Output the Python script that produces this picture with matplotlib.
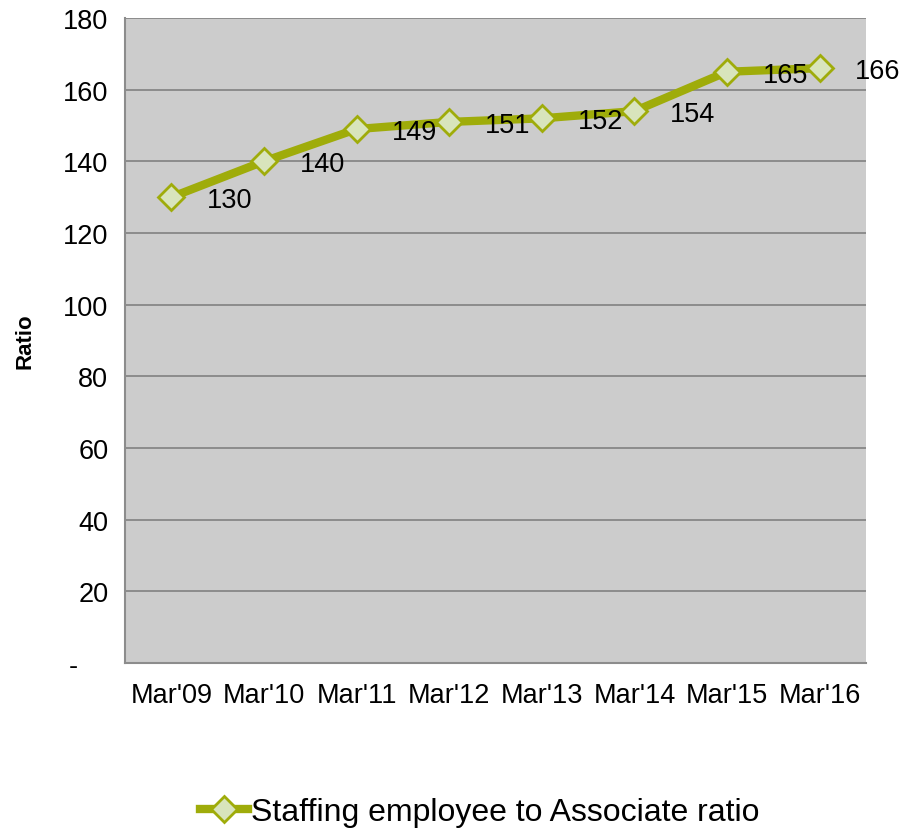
import numpy as np
import matplotlib.pyplot as plt
from matplotlib.ticker import FuncFormatter

periods = ["Mar'09", "Mar'10", "Mar'11", "Mar'12", "Mar'13", "Mar'14", "Mar'15", "Mar'16"]
ratio = [130, 140, 149, 151, 152, 154, 165, 166]

plt.rcParams["font.family"] = ["Liberation Sans", "DejaVu Sans"]

line_color = "#9fac0a"
fill_color = "#d8e4bc"

fig = plt.figure(figsize=(9.02, 8.37), dpi=100)
ax = fig.add_axes([0.1386, 0.2067, 0.8214, 0.7706])
ax.set_facecolor("#cccccc")

x = np.arange(len(periods))
ax.plot(x, ratio, color=line_color, linewidth=6, marker="D", markersize=13,
        markerfacecolor=fill_color, markeredgecolor=line_color, markeredgewidth=2,
        label="Staffing employee to Associate ratio", zorder=3)

for xi, v in zip(x, ratio):
    ax.annotate(str(v), (xi, v), xytext=(42, -2), textcoords="offset points",
                ha="center", va="center", fontsize=19.5, color="black",
                annotation_clip=False, zorder=4)

ax.set_xlim(-0.5, len(periods) - 0.5)
ax.set_ylim(0, 180)
ax.set_yticks(np.arange(0, 181, 20))
ax.yaxis.set_major_formatter(FuncFormatter(lambda v, p: "-    " if v == 0 else f"{v:.0f}"))
ax.set_xticks(x)
ax.set_xticklabels(periods)
ax.tick_params(axis="both", labelsize=19.5, colors="black", length=0)
ax.tick_params(axis="x", pad=14)
ax.tick_params(axis="y", pad=12)

ax.grid(axis="y", color="#8c8c8c", linewidth=1.4)
ax.set_axisbelow(True)
for s in ["top", "right"]:
    ax.spines[s].set_visible(False)
for s in ["left", "bottom"]:
    ax.spines[s].set_color("#8c8c8c")
    ax.spines[s].set_linewidth(1.5)

ax.set_ylabel("Ratio", fontsize=16, fontweight="bold", labelpad=20)

fig.legend(loc="center", bbox_to_anchor=(0.532, 0.029), frameon=False,
           fontsize=23, handlelength=1.5, handletextpad=0.1)

fig.savefig("out.png", dpi=100)
